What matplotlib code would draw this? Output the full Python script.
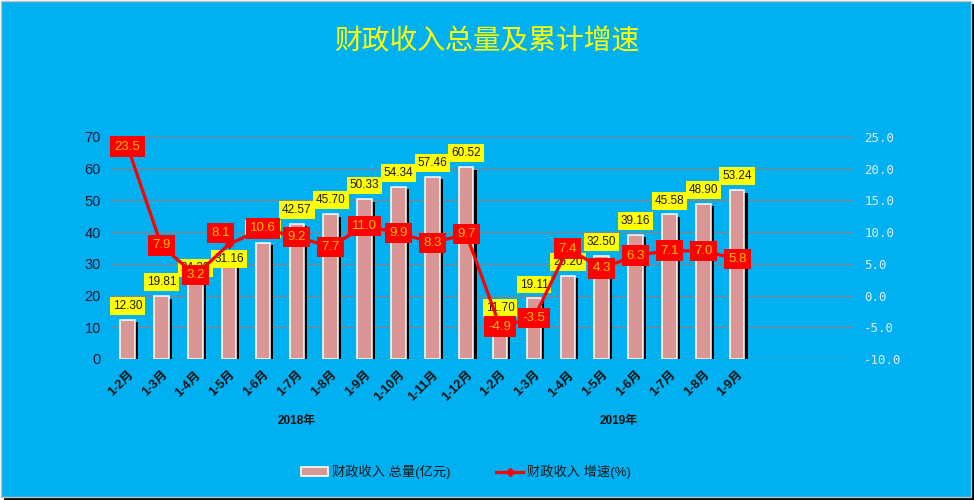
import matplotlib
matplotlib.use("Agg")
import matplotlib.pyplot as plt
import matplotlib.patheffects as pe
from matplotlib.patches import Rectangle, Patch
from matplotlib.lines import Line2D

plt.rcParams['font.family'] = ['Liberation Sans', 'Noto Sans CJK SC']
plt.rcParams['axes.unicode_minus'] = False

months = ["1-2月", "1-3月", "1-4月", "1-5月", "1-6月", "1-7月", "1-8月", "1-9月",
          "1-10月", "1-11月", "1-12月",
          "1-2月", "1-3月", "1-4月", "1-5月", "1-6月", "1-7月", "1-8月", "1-9月"]
years = ["2018年", "2019年"]
total = [12.30, 19.81, 24.39, 31.16, 36.70, 42.57, 45.70, 50.33, 54.34, 57.46, 60.52,
         11.70, 19.11, 26.20, 32.50, 39.16, 45.58, 48.90, 53.24]
growth = [23.5, 7.9, 3.2, 8.1, 10.6, 9.2, 7.7, 11.0, 9.9, 8.3, 9.7,
          -4.9, -3.5, 7.4, 4.3, 6.3, 7.1, 7.0, 5.8]

# hand-moved labels in the original (offset in points)
bar_label_nudge = {3: (0, -9)}
line_label_nudge = {3: (-6, 8)}

bg = '#00B0F0'
bar_color = '#D99694'

fig = plt.figure(figsize=(9.74, 5.0), dpi=100, facecolor='white')
fig.add_artist(Rectangle((4 / 974, 0), 970 / 974, 496 / 500, transform=fig.transFigure,
                         facecolor='black', edgecolor='none', zorder=-3))
fig.add_artist(Rectangle((0.5 / 974, 3.5 / 500), 970 / 974, 496 / 500, transform=fig.transFigure,
                         facecolor=bg, edgecolor='#c0c0c0', lw=1, zorder=-2))

ax = fig.add_axes([112 / 974, 141 / 500, (853 - 112) / 974, 222 / 500])
ax.set_facecolor('none')
x = list(range(len(months)))

bars = ax.bar(x, total, width=0.43, color=bar_color, edgecolor='white', linewidth=1.1, zorder=3)
for b in bars:
    b.set_path_effects([pe.SimplePatchShadow(offset=(2.2, -1.8), shadow_rgbFace='black', alpha=1),
                        pe.Normal()])

ax.set_xlim(-0.458, 21.42)
ax.set_ylim(0, 70)
ax.set_yticks(range(0, 71, 10))
ax.grid(axis='y', color='#7a8794', lw=1.0, zorder=0, snap=True)
for s in ax.spines.values():
    s.set_visible(False)
ax.tick_params(axis='y', length=0, pad=8, labelsize=10.5, labelcolor='#1a1a33')
ax.set_xticks(x)
ax.set_xticklabels(months, rotation=45, ha='right', rotation_mode='anchor',
                   fontsize=9, fontweight='bold', color='#111111')
ax.tick_params(axis='x', length=0, pad=7)

for i, v in enumerate(total):
    dx, dy = bar_label_nudge.get(i, (0, 0))
    ax.annotate(f"{v:.2f}", (i, v), xytext=(dx, 10 + dy), textcoords='offset points',
                ha='center', va='center', fontsize=8.5, color='#1a1a1a', zorder=5,
                bbox=dict(boxstyle='square,pad=0.25', facecolor='#FFFF00', edgecolor='none'))

for xc, yr in zip([5, 14.5], years):
    ax.text(xc, -62 / 3.167, yr, ha='center', va='center', fontsize=8.5,
            fontweight='bold', color='#111111')

ax2 = ax.twinx()
ax2.set_ylim(-10, 25)
ax2.set_yticks(range(-10, 26, 5))
ax2.set_yticklabels([f"{t:.1f}" for t in range(-10, 26, 5)], family='DejaVu Sans Mono')
for s in ax2.spines.values():
    s.set_visible(False)
ax2.tick_params(axis='y', length=0, pad=8, labelsize=9, labelcolor='#dceeff')
ax2.plot(x, growth, color='#FF0000', lw=2.3, marker='D', ms=4, zorder=4)

for i, v in enumerate(growth):
    dx, dy = line_label_nudge.get(i, (0, 0))
    ax2.annotate(f"{v:.1f}", (i, v), xytext=(dx, dy), textcoords='offset points',
                 ha='center', va='center', fontsize=9.5, color='#FFC000', zorder=6,
                 bbox=dict(boxstyle='square,pad=0.32', facecolor='#FF0000', edgecolor='none'))

fig.text(0.5, 1 - 41 / 500, "财政收入总量及累计增速", ha='center', va='center',
         fontsize=20, color='#FFFF00', family=['Noto Sans CJK SC'])

handles = [Patch(facecolor=bar_color, edgecolor='white', lw=1.2),
           Line2D([], [], color='#FF0000', lw=2.3, marker='D', ms=4)]
fig.legend(handles, ["财政收入 总量(亿元)", "财政收入 增速(%)"], loc='center',
           bbox_to_anchor=(466 / 974, 28 / 500), ncol=2, frameon=False, fontsize=9.5,
           handlelength=2.1, handleheight=0.6, handletextpad=0.3, columnspacing=3.4,
           labelcolor='#1a1a1a')

fig.savefig("out.png", dpi=100, facecolor=fig.get_facecolor())
